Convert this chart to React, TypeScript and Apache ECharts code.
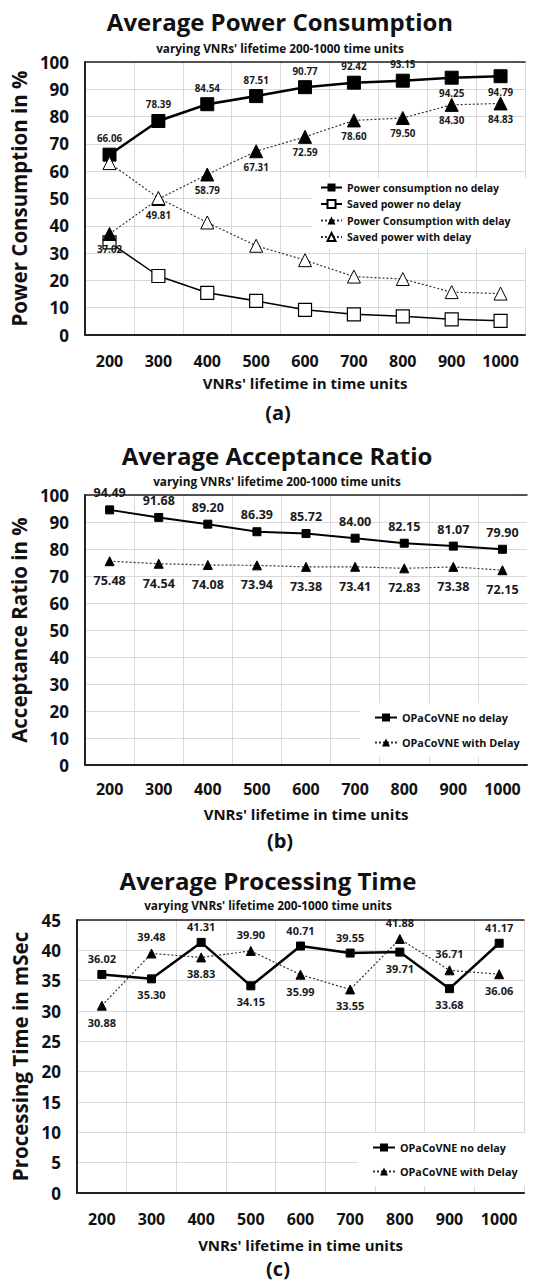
import React, { useEffect, useRef } from 'react';
import * as echarts from 'echarts';

const lifetimes = ['200', '300', '400', '500', '600', '700', '800', '900', '1000'];

const powerNoDelay = [66.06, 78.39, 84.54, 87.51, 90.77, 92.42, 93.15, 94.25, 94.79];
const savedNoDelay = [33.94, 21.61, 15.46, 12.49, 9.23, 7.58, 6.85, 5.75, 5.21];
const powerWithDelay = [37.02, 49.81, 58.79, 67.31, 72.59, 78.6, 79.5, 84.3, 84.83];
const savedWithDelay = [62.98, 50.19, 41.21, 32.69, 27.41, 21.4, 20.5, 15.7, 15.17];

const acceptNoDelay = [94.49, 91.68, 89.2, 86.39, 85.72, 84.0, 82.15, 81.07, 79.9];
const acceptWithDelay = [75.48, 74.54, 74.08, 73.94, 73.38, 73.41, 72.83, 73.38, 72.15];

const procNoDelay = [36.02, 35.3, 41.31, 34.15, 40.71, 39.55, 39.71, 33.68, 41.17];
const procWithDelay = [30.88, 39.48, 38.83, 39.9, 35.99, 33.55, 41.88, 36.71, 36.06];

// label placement (style only)
const powerNoDelayPos = ['top', 'top', 'top', 'top', 'top', 'top', 'top', 'bottom', 'bottom'];
const procNoDelayPos = ['top', 'bottom', 'top', 'bottom', 'top', 'top', 'bottom', 'bottom', 'top'];
const procWithDelayPos = ['bottom', 'top', 'bottom', 'top', 'bottom', 'bottom', 'top', 'top', 'bottom'];

const FONT = "'Open Sans', 'Noto Sans', sans-serif";
const GRID_COLOR = '#d9d9d9';

function withPos(vals: number[], pos: string[]) {
  return vals.map((v, i) => ({ value: v, label: { position: pos[i] } }));
}

function lbl(size: number, position: string = 'top', distance = 4) {
  return {
    show: true,
    position,
    distance,
    fontFamily: FONT,
    fontWeight: 'bold',
    fontSize: size,
    color: '#1a1a1a',
    formatter: (p: any) => Number(p.value).toFixed(2),
  };
}

function bottomXAxis(gridIndex: number, labelSize: number, margin: number, nameGap: number) {
  return {
    type: 'category',
    gridIndex,
    data: lifetimes,
    boundaryGap: true,
    axisLine: { show: true, lineStyle: { color: '#222', width: 2 } },
    axisTick: { show: false },
    axisLabel: { interval: 0, fontFamily: FONT, fontWeight: 'bold', fontSize: labelSize, color: '#111', margin, hideOverlap: false },
    splitLine: { show: true, interval: 0, lineStyle: { color: GRID_COLOR, width: 1 } },
    name: "VNRs' lifetime in time units",
    nameLocation: 'middle',
    nameGap,
    nameTextStyle: { fontFamily: FONT, fontWeight: 'bold', fontSize: 15, color: '#111' },
  };
}

function topXAxis(gridIndex: number) {
  return {
    type: 'category',
    gridIndex,
    position: 'top',
    data: lifetimes,
    axisLine: { show: true, lineStyle: { color: '#222', width: 1.5 } },
    axisTick: { show: false },
    axisLabel: { show: false },
    splitLine: { show: false },
  };
}

function yAxis(gridIndex: number, max: number, interval: number, name: string, nameSize: number, nameGap: number) {
  return {
    type: 'value',
    gridIndex,
    min: 0,
    max,
    interval,
    axisLine: { show: true, lineStyle: { color: '#222', width: 2 } },
    axisTick: { show: false },
    axisLabel: { fontFamily: FONT, fontWeight: 'bold', fontSize: 17, color: '#111', margin: 16 },
    splitLine: { show: true, lineStyle: { color: GRID_COLOR, width: 1 } },
    name,
    nameLocation: 'middle',
    nameRotate: 90,
    nameGap,
    nameTextStyle: { fontFamily: FONT, fontWeight: 'bold', fontSize: nameSize, color: '#111' },
  };
}

function txt(x: number, y: number, text: string, size: number) {
  return {
    type: 'text',
    x,
    y,
    style: {
      text,
      fontFamily: FONT,
      fontWeight: 'bold',
      fontSize: size,
      fill: '#111',
      textAlign: 'center',
      textVerticalAlign: 'middle',
    },
  };
}

const dotted = { color: '#333', width: 1.2, type: [2, 2] as any };

export default function App() {
  const ref = useRef<HTMLDivElement>(null);
  useEffect(() => {
    if (!ref.current) return;
    const chart = echarts.init(ref.current, null, { renderer: 'svg' });
    const legendText = (size: number) => ({ fontFamily: FONT, fontWeight: 'bold', fontSize: size, color: '#111' });
    chart.setOption({
      animation: false,
      backgroundColor: '#fff',
      graphic: [
        txt(280, 21, 'Average Power Consumption', 24),
        txt(280, 48, "varying VNRs' lifetime 200-1000 time units", 11.8),
        txt(278, 412, '(a)', 20),
        txt(277, 455, 'Average Acceptance Ratio', 24),
        txt(277, 481, "varying VNRs' lifetime 200-1000 time units", 11.8),
        txt(280, 840, '(b)', 20),
        txt(268, 880, 'Average Processing Time', 24),
        txt(268, 905, "varying VNRs' lifetime 200-1000 time units", 11.8),
        txt(278, 1268, '(c)', 20),
      ],
      grid: [
        { left: 82, top: 62, width: 443, height: 273 },
        { left: 77, top: 495, width: 450, height: 270 },
        { left: 77, top: 920, width: 447, height: 273 },
      ],
      xAxis: [
        bottomXAxis(0, 16, 18, 40),
        bottomXAxis(1, 16, 16, 41),
        bottomXAxis(2, 16, 18, 44),
        topXAxis(0),
        topXAxis(1),
        topXAxis(2),
      ],
      yAxis: [
        yAxis(0, 100, 10, 'Power Consumption in %', 20.5, 45),
        yAxis(1, 100, 10, 'Acceptance Ratio in %', 20.5, 46),
        yAxis(2, 45, 5, 'Processing Time in mSec', 20.5, 45),
      ],
      legend: [
        {
          left: 312,
          top: 178,
          orient: 'vertical',
          backgroundColor: '#fff',
          padding: [4, 20, 6, 8],
          itemWidth: 21,
          itemHeight: 10,
          itemGap: 5.5,
          textStyle: legendText(10.5),
          data: ['Power consumption no delay', 'Saved power no delay', 'Power Consumption with delay', 'Saved power with delay'],
        },
        {
          left: 360,
          top: 703,
          orient: 'vertical',
          backgroundColor: '#fff',
          padding: [9, 20, 9, 14],
          itemWidth: 22,
          itemHeight: 10,
          itemGap: 14,
          textStyle: legendText(10.8),
          data: ['OPaCoVNE no delay', 'OPaCoVNE with Delay'],
        },
        {
          left: 358,
          top: 1133,
          orient: 'vertical',
          backgroundColor: '#fff',
          padding: [9, 20, 9, 14],
          itemWidth: 22,
          itemHeight: 10,
          itemGap: 13,
          textStyle: legendText(10.8),
          data: ['OPaCoVNE no delay ', 'OPaCoVNE with Delay '],
        },
      ],
      series: [
        {
          name: 'Power consumption no delay',
          type: 'line',
          xAxisIndex: 0,
          yAxisIndex: 0,
          data: withPos(powerNoDelay, powerNoDelayPos),
          symbol: 'rect',
          symbolSize: 13,
          itemStyle: { color: '#000', borderColor: '#000' },
          lineStyle: { color: '#000', width: 2.5 },
          label: lbl(9.8, 'top', 4),
        },
        {
          name: 'Saved power no delay',
          type: 'line',
          xAxisIndex: 0,
          yAxisIndex: 0,
          data: savedNoDelay,
          symbol: 'rect',
          symbolSize: 13,
          itemStyle: { color: '#fff', borderColor: '#000', borderWidth: 1.2 },
          lineStyle: { color: '#000', width: 1.5 },
        },
        {
          name: 'Power Consumption with delay',
          type: 'line',
          xAxisIndex: 0,
          yAxisIndex: 0,
          data: powerWithDelay,
          symbol: 'triangle',
          symbolSize: 13,
          itemStyle: { color: '#000', borderColor: '#000' },
          lineStyle: dotted,
          label: lbl(9.8, 'bottom', 4),
        },
        {
          name: 'Saved power with delay',
          type: 'line',
          xAxisIndex: 0,
          yAxisIndex: 0,
          data: savedWithDelay,
          symbol: 'triangle',
          symbolSize: 13,
          itemStyle: { color: '#fff', borderColor: '#000', borderWidth: 1 },
          lineStyle: dotted,
        },
        {
          name: 'OPaCoVNE no delay',
          type: 'line',
          xAxisIndex: 1,
          yAxisIndex: 1,
          data: acceptNoDelay,
          symbol: 'rect',
          symbolSize: 8,
          itemStyle: { color: '#000', borderColor: '#000' },
          lineStyle: { color: '#000', width: 2 },
          label: lbl(12.5, 'top', 6),
        },
        {
          name: 'OPaCoVNE with Delay',
          type: 'line',
          xAxisIndex: 1,
          yAxisIndex: 1,
          data: acceptWithDelay,
          symbol: 'triangle',
          symbolSize: 9,
          itemStyle: { color: '#000', borderColor: '#000' },
          lineStyle: dotted,
          label: lbl(12.5, 'bottom', 8),
        },
        {
          name: 'OPaCoVNE no delay ',
          type: 'line',
          xAxisIndex: 2,
          yAxisIndex: 2,
          data: withPos(procNoDelay, procNoDelayPos),
          symbol: 'rect',
          symbolSize: 8,
          itemStyle: { color: '#000', borderColor: '#000' },
          lineStyle: { color: '#000', width: 2.5 },
          label: lbl(11, 'top', 6),
        },
        {
          name: 'OPaCoVNE with Delay ',
          type: 'line',
          xAxisIndex: 2,
          yAxisIndex: 2,
          data: withPos(procWithDelay, procWithDelayPos),
          symbol: 'triangle',
          symbolSize: 9,
          itemStyle: { color: '#000', borderColor: '#000' },
          lineStyle: dotted,
          label: lbl(11, 'bottom', 6),
        },
      ],
    });
    return () => chart.dispose();
  }, []);
  return <div ref={ref} style={{ position: 'absolute', left: 0, top: 0, width: 534, height: 1282 }} />;
}
